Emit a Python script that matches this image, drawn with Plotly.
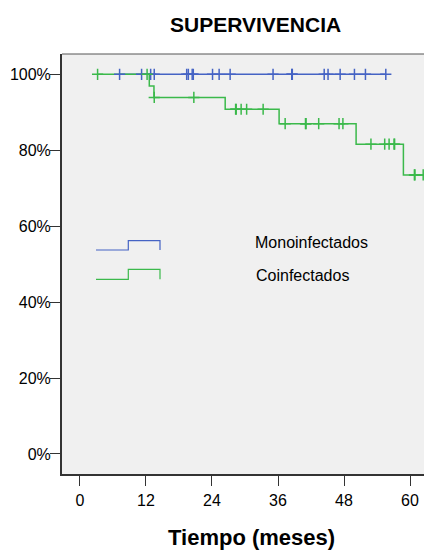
import plotly.graph_objects as go

# Kaplan-Meier survival, months of follow-up
x_ticks = [0, 12, 24, 36, 48, 60]
y_ticks = [0, 20, 40, 60, 80, 100]
y_ticktext = ["0%", "20%", "40%", "60%", "80%", "100%"]

# Monoinfectados: no events, censored observations only
mono_start = 7.2
mono_censor_times = [7.2, 11.2, 12.85, 13.5, 19.4, 19.7, 20.4, 20.6, 24.1, 25.3,
                     27.3, 35.1, 38.5, 38.6, 44.4, 45.1, 47.3, 49.9, 51.9, 55.6]

# Coinfectados: events (time, survival after event) and censored observations
co_start = 3.2
co_event_times = [12.6, 13.45, 26.4, 36.2, 50.2, 58.8]
co_event_surv = [96.9, 93.9, 90.8, 87.0, 81.6, 73.5]
co_censor_times = [3.2, 12.2, 13.5, 20.7, 28.3, 28.4, 29.3, 30.3, 33.3, 37.3,
                   41.0, 41.1, 43.4, 47.1, 47.8, 52.9, 55.4, 56.2, 57.1, 57.2,
                   60.8, 60.9, 62.4]

BLUE = "#4563c4"
GREEN = "#3bb94b"
FONT = "Liberation Sans, Arial, sans-serif"


def surv_at(t, ev_t, ev_s):
    s = 100.0
    for et, es in zip(ev_t, ev_s):
        if et <= t:
            s = es
    return s


# step paths
mono_x = [mono_start, max(mono_censor_times)]
mono_y = [100.0, 100.0]

co_end = max(co_censor_times)
co_x = [co_start] + co_event_times + [co_end]
co_y = [100.0] + co_event_surv + [co_event_surv[-1]]

co_censor_surv = [surv_at(t, co_event_times, co_event_surv) for t in co_censor_times]
mono_censor_surv = [100.0 for _ in mono_censor_times]

fig = go.Figure()
fig.add_trace(go.Scatter(x=mono_x, y=mono_y, mode="lines", line_shape="hv",
                         line=dict(color=BLUE, width=1.5), hoverinfo="skip"))
fig.add_trace(go.Scatter(x=co_x, y=co_y, mode="lines", line_shape="hv",
                         line=dict(color=GREEN, width=1.5), hoverinfo="skip"))
fig.add_trace(go.Scatter(x=mono_censor_times, y=mono_censor_surv, mode="markers",
                         marker=dict(symbol="cross-thin", size=8,
                                     line=dict(color=BLUE, width=1.5))))
fig.add_trace(go.Scatter(x=co_censor_times, y=co_censor_surv, mode="markers",
                         marker=dict(symbol="cross-thin", size=8,
                                     line=dict(color=GREEN, width=1.5))))

W, H = 424, 550
L, R, T, B = 62, 0, 54, 76
pw, ph = W - L - R, H - T - B


def px(xp):
    return (xp - L) / pw


def py(yp):
    return (H - B - yp) / ph


def step_glyph(x0, x1, x2, ylo, yhi):
    return (f"M {px(x0)},{py(ylo)} L {px(x1)},{py(ylo)} L {px(x1)},{py(yhi)} "
            f"L {px(x2)},{py(yhi)} L {px(x2)},{py(ylo)}")


shapes = [
    dict(type="line", xref="paper", yref="paper", x0=0, x1=1, y0=1, y1=1,
         line=dict(color="#555555", width=1)),
    dict(type="path", xref="paper", yref="paper",
         path=step_glyph(96, 128.3, 160, 250, 240.7), line=dict(color=BLUE, width=1.2)),
    dict(type="path", xref="paper", yref="paper",
         path=step_glyph(96, 128.3, 160, 279.3, 269.3), line=dict(color=GREEN, width=1.2)),
]

annotations = [
    dict(text="<b>SUPERVIVENCIA</b>", xref="paper", yref="paper",
         x=px(255), y=py(24.5), xanchor="center", yanchor="middle", showarrow=False,
         font=dict(family=FONT, size=21, color="#000000")),
    dict(text="<b>Tiempo (meses)</b>", xref="paper", yref="paper",
         x=px(251), y=py(537), xanchor="center", yanchor="middle", showarrow=False,
         font=dict(family=FONT, size=22, color="#000000")),
    dict(text="Monoinfectados", xref="paper", yref="paper",
         x=px(252.5), y=py(243), xanchor="left", yanchor="middle", showarrow=False,
         font=dict(family=FONT, size=16, color="#000000")),
    dict(text="Coinfectados", xref="paper", yref="paper",
         x=px(254), y=py(275.5), xanchor="left", yanchor="middle", showarrow=False,
         font=dict(family=FONT, size=16, color="#000000")),
]

fig.update_layout(
    width=W, height=H, autosize=False,
    margin=dict(l=L, r=R, t=T, b=B, pad=0),
    paper_bgcolor="#ffffff", plot_bgcolor="#f0f0f0",
    showlegend=False,
    shapes=shapes, annotations=annotations,
    font=dict(family=FONT, size=16, color="#000000"),
    xaxis=dict(range=[-3.27, 62.545], tickvals=x_ticks, ticks="outside", ticklen=10,
               tickwidth=1, tickcolor="#333333", showline=True, linecolor="#333333",
               linewidth=2, showgrid=False, zeroline=False, ticklabelstandoff=1,
               tickfont=dict(family=FONT, size=16, color="#000000")),
    yaxis=dict(range=[-5.27, 105.35], tickvals=y_ticks, ticktext=y_ticktext,
               ticks="outside", ticklen=10, tickwidth=1, tickcolor="#333333",
               showline=True, linecolor="#333333", linewidth=2, showgrid=False,
               zeroline=False, ticklabelstandoff=-4,
               tickfont=dict(family=FONT, size=16, color="#000000")),
)

fig.write_html("out.html")
